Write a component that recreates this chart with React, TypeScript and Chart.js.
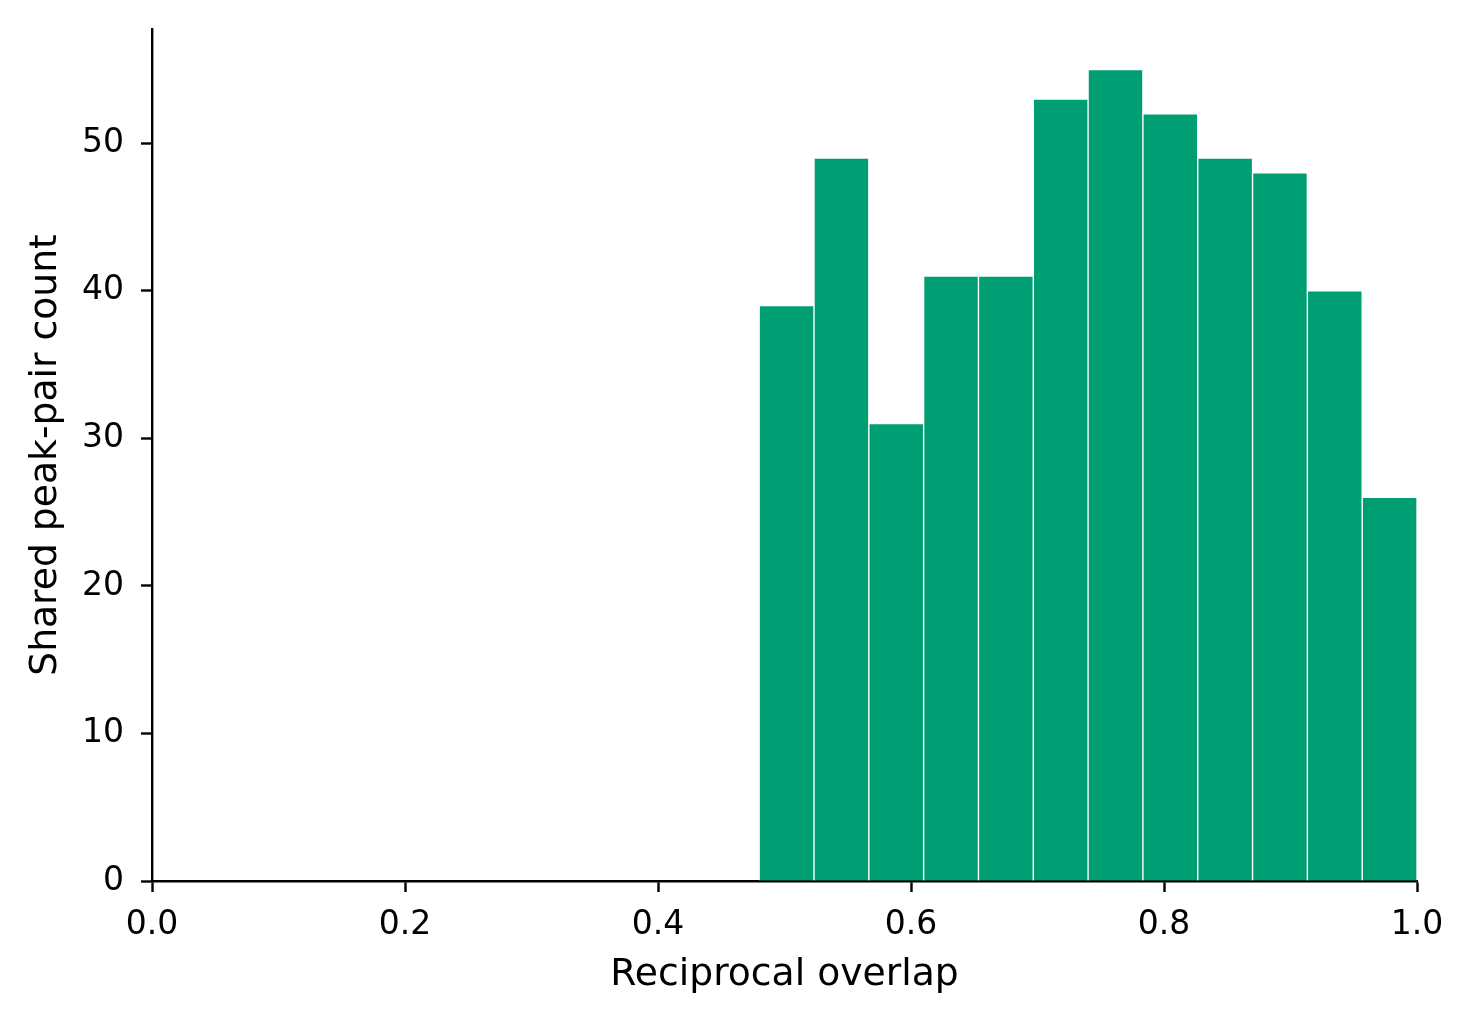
import React, { useEffect, useRef } from 'react';
import { Chart, registerables } from 'chart.js';

Chart.register(...registerables);

// histogram bins (reciprocal overlap) and counts per bin
const binEdges: number[] = [0.48, 0.5233, 0.5667, 0.61, 0.6533, 0.6967, 0.74, 0.7833, 0.8267, 0.87, 0.9133, 0.9567, 1.0];
const counts: number[] = [39, 49, 31, 41, 41, 53, 55, 52, 49, 48, 40, 26];

const xTicks: number[] = [0.0, 0.2, 0.4, 0.6, 0.8, 1.0];
const yTicks: number[] = [0, 10, 20, 30, 40, 50];

const barColor = '#009E73';
const font = 'DejaVu Sans';

const App: React.FC = () => {
  const chartRef = useRef<HTMLCanvasElement | null>(null);

  useEffect(() => {
    if (!chartRef.current) return;
    const ctx = chartRef.current.getContext('2d');

    const points = counts.map((c, i) => ({
      x: (binEdges[i] + binEdges[i + 1]) / 2,
      y: c,
    }));

    const chart = new Chart(ctx as any, {
      type: 'bar',
      data: {
        datasets: [
          {
            data: points as any,
            backgroundColor: barColor,
            borderColor: '#ffffff',
            borderWidth: 1,
            barPercentage: 1,
            categoryPercentage: 1,
          },
        ],
      },
      options: {
        animation: false,
        responsive: true,
        maintainAspectRatio: false,
        layout: { padding: { left: 0, top: 29, right: 57, bottom: 0 } },
        plugins: {
          legend: { display: false },
          tooltip: { enabled: false },
        },
        scales: {
          x: {
            type: 'linear',
            min: 0,
            max: 1,
            offset: false,
            z: 1,
            afterBuildTicks: (scale: any) => {
              scale.ticks = xTicks.map((v) => ({ value: v }));
            },
            afterFit: (scale: any) => {
              scale.height = 143;
            },
            grid: {
              offset: false,
              drawOnChartArea: false,
              drawTicks: true,
              tickLength: 11,
              tickWidth: 2.4,
              tickColor: '#000',
              color: '#000',
            },
            border: { display: true, color: '#000', width: 2.4 },
            ticks: {
              color: '#000',
              padding: 14,
              maxRotation: 0,
              font: { family: font, size: 33 },
              callback: (v: any) => Number(v).toFixed(1),
            },
            title: {
              display: true,
              text: 'Reciprocal overlap',
              color: '#000',
              font: { family: font, size: 37.7 },
              padding: { top: 0, bottom: 26 },
            },
          },
          y: {
            type: 'linear',
            min: 0,
            max: 57.75,
            z: 1,
            afterBuildTicks: (scale: any) => {
              scale.ticks = yTicks.map((v) => ({ value: v }));
            },
            afterFit: (scale: any) => {
              scale.width = 152;
            },
            grid: {
              drawOnChartArea: false,
              drawTicks: true,
              tickLength: 11,
              tickWidth: 2.4,
              tickColor: '#000',
              color: '#000',
            },
            border: { display: true, color: '#000', width: 2.4 },
            ticks: {
              color: '#000',
              padding: 17,
              // small line height keeps the label padding from pushing the plot top down
              font: { family: font, size: 33, lineHeight: 0.5 },
              callback: (v: any) => String(v),
            },
            title: {
              display: true,
              text: 'Shared peak-pair count',
              color: '#000',
              font: { family: font, size: 37.7 },
              padding: { top: 24, bottom: 0 },
            },
          },
        },
      },
    });

    return () => {
      chart.destroy();
    };
  }, []);

  return (
    <div style={{ position: 'absolute', left: 0, top: 0, width: 1474, height: 1024, background: '#fff' }}>
      <canvas ref={chartRef} />
    </div>
  );
};

export default App;
